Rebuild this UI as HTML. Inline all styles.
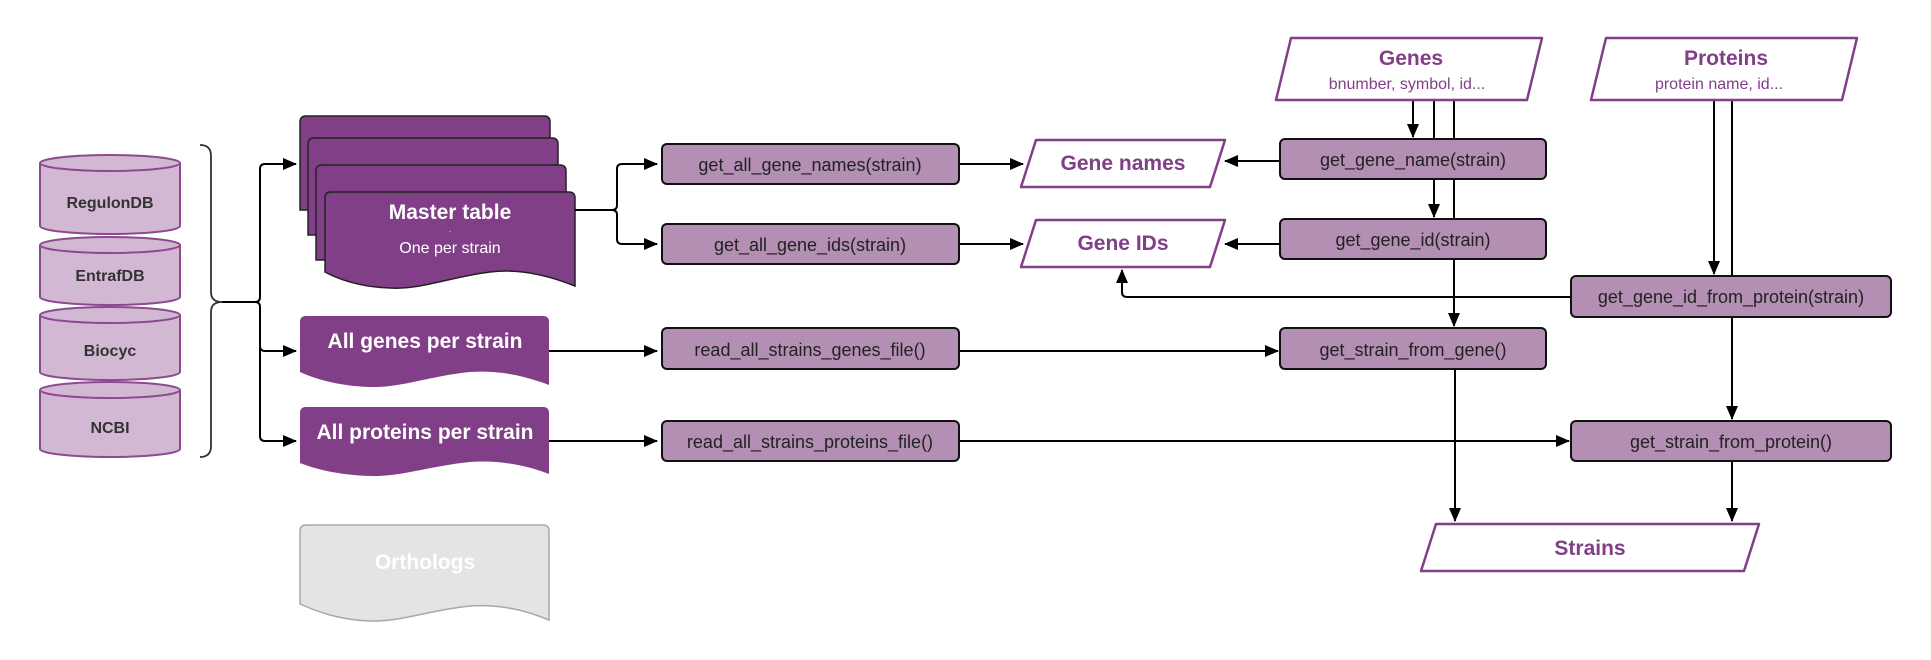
<!DOCTYPE html>
<html><head><meta charset="utf-8"><style>
html,body{margin:0;padding:0;background:#fff;}
svg{display:block;font-family:"Liberation Sans",sans-serif;}
</style></head><body>
<svg width="1931" height="660" viewBox="0 0 1931 660" xmlns="http://www.w3.org/2000/svg">
<defs>
<marker id="ar2" markerWidth="14" markerHeight="12" refX="13" refY="6" orient="auto" markerUnits="userSpaceOnUse">
<path d="M0,0 L14,6 L0,12 z" fill="#000"/></marker>
</defs>

<!-- cylinders -->
<g fill="#d3b8d3" stroke="#8c4a90" stroke-width="2">
<path d="M40,163 L40,226 A70,8 0 0 0 180,226 L180,163"/><ellipse cx="110" cy="163" rx="70" ry="8"/>
<path d="M40,245 L40,297 A70,8 0 0 0 180,297 L180,245"/><ellipse cx="110" cy="245" rx="70" ry="8"/>
<path d="M40,315 L40,372 A70,8 0 0 0 180,372 L180,315"/><ellipse cx="110" cy="315" rx="70" ry="8"/>
<path d="M40,390 L40,449 A70,8 0 0 0 180,449 L180,390"/><ellipse cx="110" cy="390" rx="70" ry="8"/>
</g>
<g font-weight="bold" font-size="16" fill="#333" text-anchor="middle">
<text x="110" y="208">RegulonDB</text>
<text x="110" y="281">EntrafDB</text>
<text x="110" y="356">Biocyc</text>
<text x="110" y="433">NCBI</text>
</g>

<!-- brace -->
<path d="M200,145 Q211,145 211,156 L211,292 Q211,302 222,302 Q211,302 211,312 L211,446 Q211,457 200,457" fill="none" stroke="#333" stroke-width="1.8"/>
<g fill="none" stroke="#000" stroke-width="2">
<path d="M222,302 L255,302 Q260,302 260,297 L260,169 Q260,164 265,164 L296,164" marker-end="url(#ar2)"/>
<path d="M255,302 Q260,302 260,307 L260,346 Q260,351 265,351 L296,351" marker-end="url(#ar2)"/>
<path d="M260,346 L260,436 Q260,441 265,441 L296,441" marker-end="url(#ar2)"/>
</g>

<!-- master table stack -->
<g fill="#803f87" stroke="#222" stroke-width="1.5">
<path d="M300,195 L300,122 Q300,116 306,116 L544,116 Q550,116 550,122 L550,210 L300,210 z"/>
<path d="M308,218 L308,144 Q308,138 314,138 L552,138 Q558,138 558,144 L558,235 L308,235 z"/>
<path d="M316,245 L316,171 Q316,165 322,165 L560,165 Q566,165 566,171 L566,260 L316,260 z"/>
<path d="M325,272 L325,198 Q325,192 331,192 L569,192 Q575,192 575,198 L575,286 C550,276 520,268 490,272 C450,277 420,290 390,288 C360,287 340,280 325,272 z"/>
</g>
<text x="450" y="219" text-anchor="middle" fill="#fff" font-weight="bold" font-size="21">Master table</text>
<text x="450" y="232" text-anchor="middle" fill="#fff" font-size="8">.</text>
<text x="450" y="253" text-anchor="middle" fill="#fff" font-size="16">One per strain</text>

<!-- docs -->
<path d="M300,372 L300,322 Q300,316 306,316 L543,316 Q549,316 549,322 L549,385 C525,376 500,370 470,372 C430,376 400,388 370,387 C340,386 318,380 300,372 z" fill="#803f87"/>
<text x="425" y="348" text-anchor="middle" fill="#fff" font-weight="bold" font-size="21">All genes per strain</text>
<path d="M300,463 L300,413 Q300,407 306,407 L543,407 Q549,407 549,413 L549,474 C525,465 500,460 470,462 C430,466 400,477 370,476 C340,475 318,470 300,463 z" fill="#803f87"/>
<text x="425" y="439" text-anchor="middle" fill="#fff" font-weight="bold" font-size="21">All proteins per strain</text>
<path d="M300,604 L300,531 Q300,525 306,525 L543,525 Q549,525 549,531 L549,620 C525,610 500,604 470,606 C430,610 400,622 370,621 C340,620 318,612 300,604 z" fill="#e4e4e4" stroke="#a8a8a8" stroke-width="1.5"/>
<text x="425" y="569" text-anchor="middle" fill="#fff" font-weight="bold" font-size="21">Orthologs</text>

<!-- connectors -->
<g fill="none" stroke="#000" stroke-width="2">
<path d="M575,210 L612,210 Q617,210 617,205 L617,169 Q617,164 622,164 L657,164" marker-end="url(#ar2)"/>
<path d="M612,210 Q617,210 617,215 L617,239 Q617,244 622,244 L657,244" marker-end="url(#ar2)"/>
<path d="M549,351 L657,351" marker-end="url(#ar2)"/>
<path d="M549,441 L657,441" marker-end="url(#ar2)"/>
<path d="M959,164 L1023,164" marker-end="url(#ar2)"/>
<path d="M959,244 L1023,244" marker-end="url(#ar2)"/>
<path d="M959,351 L1278,351" marker-end="url(#ar2)"/>
<path d="M959,441 L1569,441" marker-end="url(#ar2)"/>
<path d="M1280,161 L1225,161" marker-end="url(#ar2)"/>
<path d="M1280,244 L1225,244" marker-end="url(#ar2)"/>
<path d="M1571,297 L1127,297 Q1122,297 1122,292 L1122,270" marker-end="url(#ar2)"/>
<path d="M1413,101 L1413,137" marker-end="url(#ar2)"/>
<path d="M1434,101 L1434,217" marker-end="url(#ar2)"/>
<path d="M1454,101 L1454,326" marker-end="url(#ar2)"/>
<path d="M1455,369 L1455,521" marker-end="url(#ar2)"/>
<path d="M1714,101 L1714,274" marker-end="url(#ar2)"/>
<path d="M1732,101 L1732,419" marker-end="url(#ar2)"/>
<path d="M1732,461 L1732,521" marker-end="url(#ar2)"/>
</g>

<!-- function boxes -->
<g fill="#b48fb4" stroke="#111" stroke-width="2">
<rect x="662" y="144" width="297" height="40" rx="5"/>
<rect x="662" y="224" width="297" height="40" rx="5"/>
<rect x="662" y="328" width="297" height="41" rx="5"/>
<rect x="662" y="421" width="297" height="40" rx="5"/>
<rect x="1280" y="139" width="266" height="40" rx="5"/>
<rect x="1280" y="219" width="266" height="40" rx="5"/>
<rect x="1280" y="328" width="266" height="41" rx="5"/>
<rect x="1571" y="276" width="320" height="41" rx="5"/>
<rect x="1571" y="421" width="320" height="40" rx="5"/>
</g>
<g font-size="18" fill="#222" text-anchor="middle">
<text x="810" y="171">get_all_gene_names(strain)</text>
<text x="810" y="251">get_all_gene_ids(strain)</text>
<text x="810" y="356">read_all_strains_genes_file()</text>
<text x="810" y="448">read_all_strains_proteins_file()</text>
<text x="1413" y="166">get_gene_name(strain)</text>
<text x="1413" y="246">get_gene_id(strain)</text>
<text x="1413" y="356">get_strain_from_gene()</text>
<text x="1731" y="303">get_gene_id_from_protein(strain)</text>
<text x="1731" y="448">get_strain_from_protein()</text>
</g>

<!-- parallelograms -->
<g fill="#fff" stroke="#803f87" stroke-width="2.5" stroke-linejoin="round">
<path d="M1036,140 L1225,140 L1210,187 L1021,187 z"/>
<path d="M1036,220 L1225,220 L1210,267 L1021,267 z"/>
<path d="M1291,38 L1542,38 L1527,100 L1276,100 z"/>
<path d="M1606,38 L1857,38 L1842,100 L1591,100 z"/>
<path d="M1436,524 L1759,524 L1744,571 L1421,571 z"/>
</g>
<g fill="#803f87" text-anchor="middle" font-weight="bold" font-size="21">
<text x="1123" y="170">Gene names</text>
<text x="1123" y="250">Gene IDs</text>
<text x="1411" y="65">Genes</text>
<text x="1726" y="65">Proteins</text>
<text x="1590" y="555">Strains</text>
</g>
<g fill="#803f87" text-anchor="middle" font-size="16">
<text x="1407" y="89">bnumber, symbol, id...</text>
<text x="1719" y="89">protein name, id...</text>
</g>
</svg>
</body></html>
